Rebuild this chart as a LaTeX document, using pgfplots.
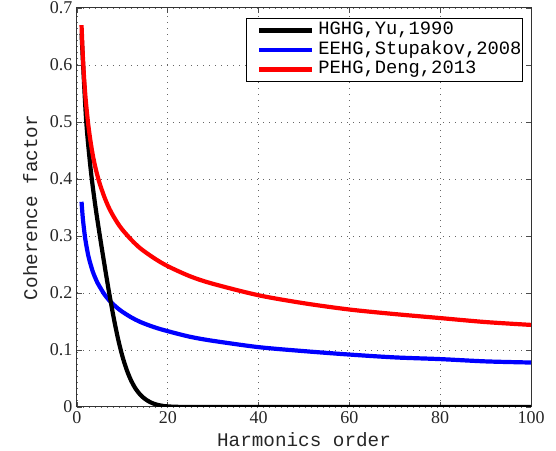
\documentclass[border=0pt]{standalone}
\usepackage{fontspec}
\setmainfont{Liberation Serif}
\newfontfamily\tickfont{Liberation Serif}
\newfontfamily\monofont{Liberation Mono}
\usepackage{pgfplots}
\pgfplotsset{compat=1.18}
\begin{document}
\begin{tikzpicture}
\begin{axis}[
  scale only axis, width=454bp, height=399bp,
  xmin=0, xmax=100, ymin=0, ymax=0.7,
  xtick={0,20,40,60,80,100}, ytick={0,0.1,0.2,0.3,0.4,0.5,0.6,0.7},
  xticklabels={\tickfont 0,\tickfont 20,\tickfont 40,\tickfont 60,\tickfont 80,\tickfont 100},
  yticklabels={\tickfont 0,\tickfont 0.1,\tickfont 0.2,\tickfont 0.3,\tickfont 0.4,\tickfont 0.5,\tickfont 0.6,\tickfont 0.7},
  ticklabel style={font=\fontsize{18bp}{18bp}\tickfont, text=black!85},
  xticklabel style={yshift=-1bp},
  yticklabel style={xshift=-1bp},
  tick align=inside, tick pos=both, major tick length=5bp,
  tick style={black!70, line width=0.8bp},
  axis line style={black!80, line width=1bp},
  grid=major,
  major grid style={black!60, line width=0.9bp, dash pattern=on 1bp off 5bp},
  xlabel={Harmonics order}, ylabel={Coherence factor},
  label style={font=\fontsize{19.3bp}{19.3bp}\monofont, text=black!85},
  xlabel style={at={(axis description cs:0.5,0)}, anchor=base, yshift=-40bp},
  ylabel style={at={(axis description cs:-0.088,0.5)}, anchor=base, rotate=0},
  legend style={at={(rel axis cs:1,1)}, xshift=-8bp, yshift=-10bp, anchor=north east,
    draw=black, line width=1bp, inner xsep=1bp, inner ysep=2.5bp,
    font=\fontsize{18.8bp}{19.5bp}\monofont,
    nodes={inner sep=0pt, text height=14bp, text depth=5.5bp},
    column sep=4bp},
  legend cell align=left,
  legend image code/.code={\path (0bp,0bp); \draw[#1, line width=4.5bp] (9bp,0bp) -- (62bp,0bp);},
]
\addlegendimage{black, line width=4.5bp}
\addlegendentry{HGHG,Yu,1990}
\addlegendimage{blue, line width=4.5bp}
\addlegendentry{EEHG,Stupakov,2008}
\addlegendimage{red, line width=4.5bp}
\addlegendentry{PEHG,Deng,2013}

\addplot[blue, line width=4.2bp, smooth, forget plot] coordinates {
(1,0.360) (1.25,0.334) (1.5,0.315) (1.75,0.299) (2,0.286) (2.5,0.265) (3,0.250) (3.5,0.237)
(4,0.227) (4.5,0.218) (5,0.211) (6,0.198) (7,0.188) (8,0.180) (9,0.173) (10,0.167)
(12,0.157) (14,0.149) (17,0.140) (20,0.133) (25,0.123) (30,0.116) (40,0.105) (50,0.098)
(60,0.092) (70,0.087) (80,0.084) (90,0.080) (100,0.078)};

\addplot[black, line width=4.2bp, smooth, forget plot] coordinates {
(1,0.655) (2,0.505) (3,0.418) (4,0.355) (5,0.302) (6,0.252) (7,0.204) (8,0.160) (9,0.121)
(10,0.089) (11,0.064) (12,0.045) (13,0.031) (14,0.021) (15,0.014) (16,0.009) (17,0.0055)
(18,0.0033) (19,0.0018) (20,0.001) (22,0.0003) (25,0) (40,0) (60,0) (80,0) (100,0)};

\addplot[red, line width=4.2bp, smooth, forget plot] coordinates {
(1,0.670) (1.25,0.622) (1.5,0.585) (1.75,0.556) (2,0.532) (2.5,0.494) (3,0.465) (3.5,0.441)
(4,0.422) (4.5,0.406) (5,0.392) (6,0.369) (7,0.350) (8,0.335) (9,0.322) (10,0.311)
(12,0.293) (14,0.278) (17,0.261) (20,0.247) (25,0.229) (30,0.216) (40,0.196) (50,0.182)
(60,0.171) (70,0.163) (80,0.156) (90,0.149) (100,0.144)};
\end{axis}
\pgfresetboundingbox
\path ([shift={(-77bp,-44bp)}]current axis.south west) rectangle ([shift={(25bp,8bp)}]current axis.north east);
\end{tikzpicture}
\end{document}
